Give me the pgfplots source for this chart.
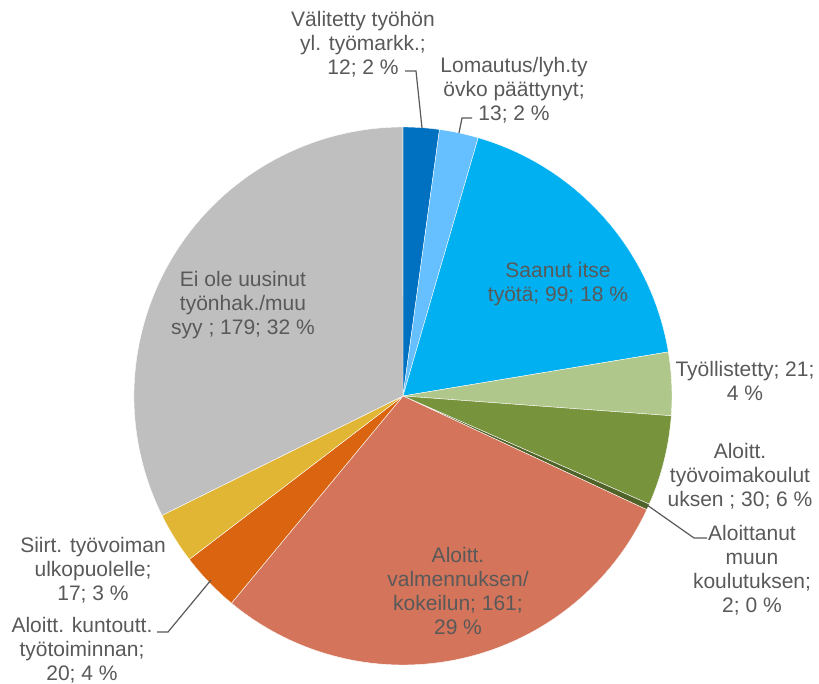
\documentclass[border=0pt]{standalone}
\usepackage{pgfplots}
\usepackage{pgfplotstable}
\pgfplotsset{compat=1.18}
\usepackage{fontspec}
\setmainfont{Liberation Sans}
\definecolor{c1}{HTML}{0070C0}
\definecolor{c2}{HTML}{66BFFF}
\definecolor{c3}{HTML}{00B0F0}
\definecolor{c4}{HTML}{AFC78B}
\definecolor{c5}{HTML}{77933C}
\definecolor{c6}{HTML}{4F6228}
\definecolor{c7}{HTML}{D4745A}
\definecolor{c8}{HTML}{DB6410}
\definecolor{c9}{HTML}{E1B634}
\definecolor{c10}{HTML}{BFBFBF}
\definecolor{txt}{HTML}{595959}

\pgfplotstableread{
value color
12  c1
13  c2
99  c3
21  c4
30  c5
2   c6
161 c7
20  c8
17  c9
179 c10
}\piedata

\begin{document}
\begin{tikzpicture}
\begin{axis}[name=ax, width=819bp, height=684bp, scale only axis,
  xmin=0, xmax=819, ymin=-684, ymax=0, hide axis, clip=false]
  % total
  \xdef\total{0}
  \pgfplotsforeachungrouped \i in {0,...,9}{%
    \pgfplotstablegetelem{\i}{value}\of\piedata
    \pgfmathsetmacro\tmp{\total+\pgfplotsretval}%
    \xdef\total{\tmp}%
  }
  \xdef\startangle{90}
  \pgfplotsforeachungrouped \i in {0,...,9}{%
    \pgfplotstablegetelem{\i}{value}\of\piedata \let\v\pgfplotsretval
    \pgfplotstablegetelem{\i}{color}\of\piedata \let\c\pgfplotsretval
    \pgfmathsetmacro\endangle{\startangle - 360*(\v/\total)}%
    \edef\temp{\noexpand\fill[fill=\c, draw=white, line width=0.4bp] (axis cs:403,-396) -- ++(\startangle:269bp) arc[start angle=\startangle, end angle=\endangle, radius=269bp] -- cycle;}%
    \temp
    \xdef\startangle{\endangle}%
  }
  \tikzset{lab/.style={align=center, text=txt, font=\fontsize{21bp}{24bp}\selectfont, inner sep=0pt},
           lead/.style={draw=txt, line width=1.2bp}}
  \node[lab] at (axis cs:363,-44) {Välitetty työhön\\yl. työmarkk.;\\12; 2 \%};
  \node[lab] at (axis cs:514,-90) {Lomautus/lyh.ty\\övko päättynyt;\\13; 2 \%};
  \node[lab] at (axis cs:558,-284) {Saanut itse\\työtä; 99; 18 \%};
  \node[lab] at (axis cs:745,-381) {Työllistetty; 21;\\4 \%};
  \node[lab] at (axis cs:740,-476) {Aloitt.\\työvoimakoulut\\uksen ; 30; 6 \%};
  \node[lab] at (axis cs:752,-570) {Aloittanut\\muun\\koulutuksen;\\2; 0 \%};
  \node[lab] at (axis cs:458,-591) {Aloitt.\\valmennuksen/\\kokeilun; 161;\\29 \%};
  \node[lab] at (axis cs:93,-570) {Siirt. työvoiman\\ulkopuolelle;\\17; 3 \%};
  \node[lab] at (axis cs:82,-650) {Aloitt. kuntoutt.\\työtoiminnan;\\20; 4 \%};
  \node[lab] at (axis cs:243,-305) {Ei ole uusinut\\työnhak./muu\\syy ; 179; 32 \%};
  \draw[lead] (axis cs:405,-71) -- (axis cs:416,-71) -- (axis cs:422,-128);
  \draw[lead] (axis cs:472,-118) -- (axis cs:462,-118) -- (axis cs:459,-133);
  \draw[lead] (axis cs:707,-538) -- (axis cs:694,-538) -- (axis cs:647,-505);
  \draw[lead] (axis cs:157,-632) -- (axis cs:168,-632) -- (axis cs:211,-580);
\end{axis}
\pgfresetboundingbox
\path (ax.south west) rectangle (ax.north east);
\end{tikzpicture}
\end{document}
